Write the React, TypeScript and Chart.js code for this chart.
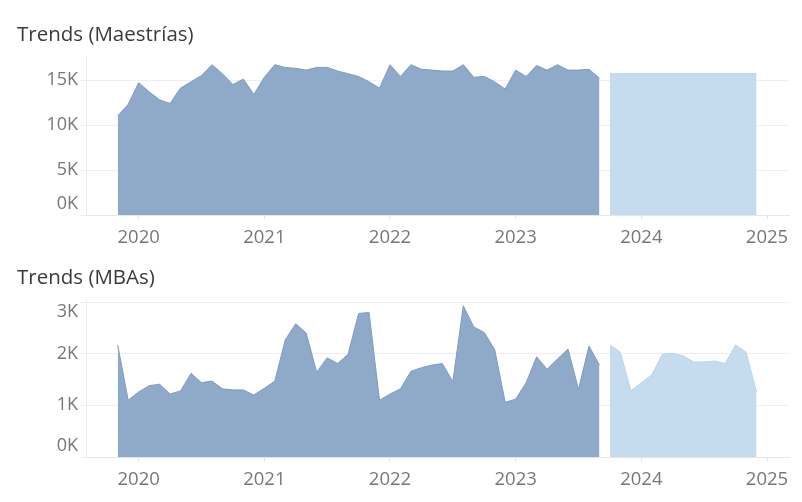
import React, { useEffect, useRef } from "react";
import { Chart, registerables } from "chart.js";

Chart.register(...registerables);

// ---------- data ----------
const actualMonths = [
  "2019-11", "2019-12",
  "2020-01", "2020-02", "2020-03", "2020-04", "2020-05", "2020-06", "2020-07", "2020-08", "2020-09", "2020-10", "2020-11", "2020-12",
  "2021-01", "2021-02", "2021-03", "2021-04", "2021-05", "2021-06", "2021-07", "2021-08", "2021-09", "2021-10", "2021-11", "2021-12",
  "2022-01", "2022-02", "2022-03", "2022-04", "2022-05", "2022-06", "2022-07", "2022-08", "2022-09", "2022-10", "2022-11", "2022-12",
  "2023-01", "2023-02", "2023-03", "2023-04", "2023-05", "2023-06", "2023-07", "2023-08", "2023-09",
];
const forecastMonths = [
  "2023-10", "2023-11", "2023-12",
  "2024-01", "2024-02", "2024-03", "2024-04", "2024-05", "2024-06", "2024-07", "2024-08", "2024-09", "2024-10", "2024-11", "2024-12",
];

const maestriasActual = [
  11000, 12300,
  14700, 13700, 12800, 12400, 14100, 14800, 15500, 16700, 15700, 14500, 15100, 13400,
  15300, 16700, 16400, 16300, 16100, 16400, 16400, 16000, 15700, 15400, 14800, 14100,
  16700, 15400, 16700, 16200, 16100, 16000, 16000, 16700, 15300, 15400, 14800, 14000,
  16100, 15400, 16600, 16100, 16700, 16100, 16100, 16200, 15200,
];
const maestriasForecast = [
  15700, 15700, 15700,
  15700, 15700, 15700, 15700, 15700, 15700, 15700, 15700, 15700, 15700, 15700, 15700,
];

const mbaActual = [
  2170, 1100,
  1260, 1380, 1410, 1220, 1280, 1620, 1440, 1470, 1320, 1300, 1300, 1200,
  1330, 1470, 2270, 2580, 2400, 1640, 1920, 1810, 1990, 2780, 2800, 1100,
  1220, 1320, 1660, 1730, 1780, 1810, 1460, 2930, 2520, 2410, 2080, 1060,
  1120, 1440, 1940, 1700, 1900, 2090, 1310, 2150, 1780,
];
const mbaForecast = [
  2170, 2030, 1280,
  1440, 1590, 1990, 2010, 1960, 1840, 1840, 1860, 1810, 2170, 2030, 1260,
];

const yearTicks = [2020, 2021, 2022, 2023, 2024, 2025];
const maestriasYTicks = [0, 5000, 10000, 15000];
const mbaYTicks = [0, 1000, 2000, 3000];

const titleTop = "Trends (Maestrías)";
const titleBottom = "Trends (MBAs)";

// ---------- helpers ----------
const monthToX = (m: string) => {
  const [y, mo] = m.split("-").map(Number);
  return y + (mo - 1) / 12;
};
const toPoints = (months: string[], vals: number[]) =>
  months.map((m, i) => ({ x: monthToX(m), y: vals[i] }));

const FONT = '"Open Sans", "DejaVu Sans", sans-serif';
const TICK_COLOR = "#777";

const yLabelPlugin = {
  id: "yLabels",
  afterDraw(chart: any) {
    const s = chart.scales.y;
    const ticks: number[] = chart.options.plugins.yLabels.ticks;
    const ctx = chart.ctx;
    const area = chart.chartArea;
    ctx.save();
    ctx.font = `18px ${FONT}`;
    ctx.fillStyle = TICK_COLOR;
    ctx.textAlign = "right";
    ctx.textBaseline = "middle";
    ticks.forEach((v) => {
      let y = s.getPixelForValue(v);
      y = Math.min(Math.max(y, area.top + 13), area.bottom - 11);
      ctx.fillText(`${v / 1000}K`, 78, y);
    });
    ctx.restore();
  },
};

function makeConfig(
  actual: { x: number; y: number }[],
  forecast: { x: number; y: number }[],
  yMax: number,
  yTicks: number[],
  topPad: number,
  xAxisH: number
): any {
  return {
    type: "line",
    data: {
      datasets: [
        {
          data: actual,
          fill: "origin",
          backgroundColor: "rgba(143,170,200,1)",
          borderColor: "#7f9cc0",
          borderWidth: 1,
          pointRadius: 0,
          tension: 0,
        },
        {
          data: forecast,
          fill: "origin",
          backgroundColor: "rgba(196,220,238,1)",
          borderColor: "#b9d4ea",
          borderWidth: 1,
          pointRadius: 0,
          tension: 0,
        },
      ],
    },
    options: {
      responsive: false,
      maintainAspectRatio: false,
      animation: false,
      devicePixelRatio: 1,
      layout: { padding: { top: topPad, right: 13, left: 0, bottom: 0 } },
      plugins: {
        legend: { display: false },
        tooltip: { enabled: false },
        yLabels: { ticks: yTicks },
      },
      scales: {
        x: {
          type: "linear",
          min: 2019.581,
          max: 2025.175,
          afterBuildTicks: (s: any) => {
            s.ticks = yearTicks.map((v) => ({ value: v }));
          },
          afterFit: (s: any) => {
            s.height = xAxisH;
          },
          grid: {
            display: true,
            drawOnChartArea: false,
            drawTicks: true,
            tickLength: 4,
            color: "#e2e2e2",
          },
          border: { display: true, color: "#e6e6e6" },
          ticks: {
            autoSkip: false,
            maxRotation: 0,
            padding: 8,
            color: TICK_COLOR,
            font: { family: FONT, size: 18.5 },
            callback: (v: number) => String(v),
          },
        },
        y: {
          type: "linear",
          min: 0,
          max: yMax,
          afterBuildTicks: (s: any) => {
            s.ticks = yTicks.map((v) => ({ value: v }));
          },
          afterFit: (s: any) => {
            s.width = 86;
          },
          grid: {
            display: true,
            drawTicks: true,
            tickLength: 6,
            color: "#eeeeee",
          },
          border: { display: true, color: "#ececec" },
          ticks: { display: false },
        },
      },
    },
    plugins: [yLabelPlugin],
  };
}

function AreaPanel(props: {
  title: string;
  height: number;
  config: any;
  titleTop: number;
}) {
  const ref = useRef<HTMLCanvasElement | null>(null);
  useEffect(() => {
    if (!ref.current) return;
    const chart = new Chart(ref.current, props.config);
    return () => chart.destroy();
  }, []);
  return (
    <div style={{ position: "relative", width: 802, height: props.height }}>
      <canvas
        ref={ref}
        width={802}
        height={props.height}
        style={{ display: "block", width: 802, height: props.height }}
      />
      <div
        style={{
          position: "absolute",
          left: 17,
          top: props.titleTop,
          fontFamily: FONT,
          fontSize: 20.5,
          color: "#3a3a3a",
          lineHeight: "24px",
          whiteSpace: "nowrap",
        }}
      >
        {props.title}
      </div>
    </div>
  );
}

export default function App() {
  const topConfig = makeConfig(
    toPoints(actualMonths, maestriasActual),
    toPoints(forecastMonths, maestriasForecast),
    17667,
    maestriasYTicks,
    56,
    35
  );
  const bottomConfig = makeConfig(
    toPoints(actualMonths, mbaActual),
    toPoints(forecastMonths, mbaForecast),
    3060,
    mbaYTicks,
    49,
    45
  );
  return (
    <div
      style={{
        position: "absolute",
        left: 0,
        top: 0,
        width: 802,
        height: 502,
        background: "#fff",
      }}
    >
      <AreaPanel title={titleTop} height={250} config={topConfig} titleTop={21} />
      <AreaPanel title={titleBottom} height={252} config={bottomConfig} titleTop={14} />
    </div>
  );
}
